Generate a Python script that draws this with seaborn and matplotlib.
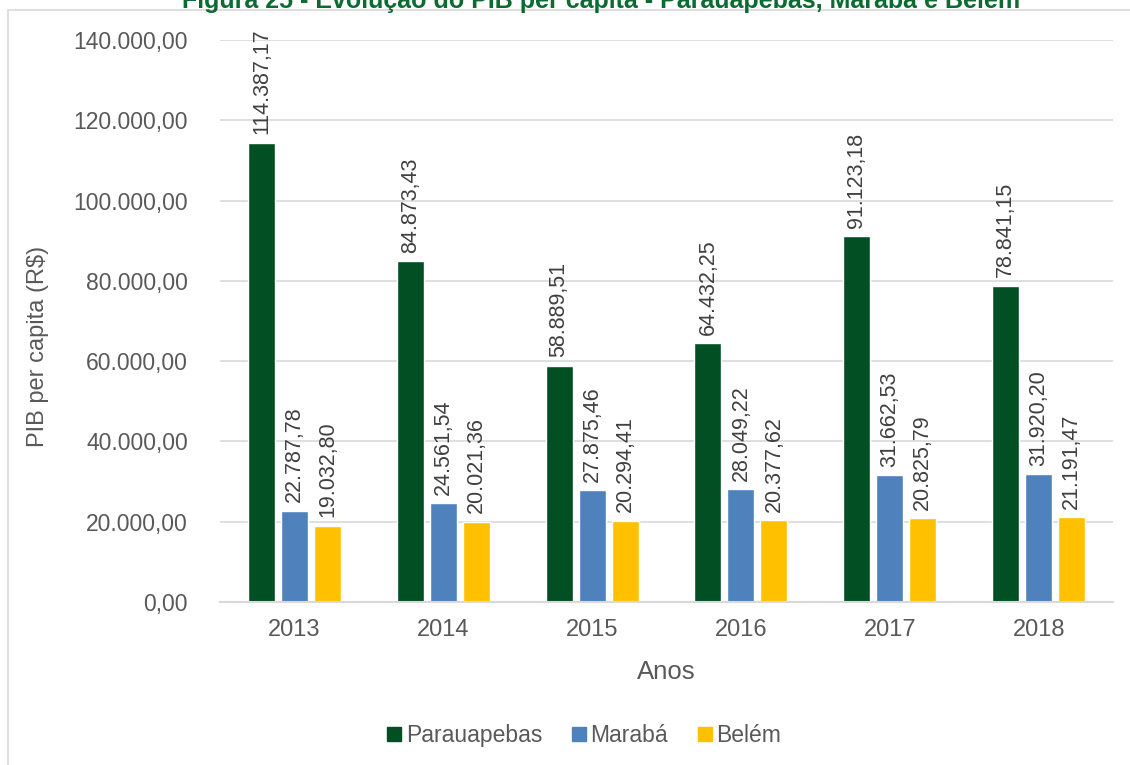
import matplotlib
matplotlib.use("Agg")
import matplotlib.pyplot as plt
from matplotlib.patches import Rectangle
from matplotlib.ticker import FuncFormatter, MultipleLocator
from matplotlib.lines import Line2D
import pandas as pd
import seaborn as sns

anos = ["2013", "2014", "2015", "2016", "2017", "2018"]
municipios = ["Parauapebas", "Marabá", "Belém"]
parauapebas = [114387.17, 84873.43, 58889.51, 64432.25, 91123.18, 78841.15]
maraba = [22787.78, 24561.54, 27875.46, 28049.22, 31662.53, 31920.20]
belem = [19032.80, 20021.36, 20294.41, 20377.62, 20825.79, 21191.47]
cores = ["#034F24", "#4F81BD", "#FFC000"]

serie = {"Parauapebas": parauapebas, "Marabá": maraba, "Belém": belem}
df = pd.DataFrame(
    [(a, m, v) for m in municipios for a, v in zip(anos, serie[m])],
    columns=["Ano", "Município", "PIB"],
)


def fmt_br(v, casas=2):
    s = f"{v:,.{casas}f}"
    return s.replace(",", "X").replace(".", ",").replace("X", ".")


sns.set_theme(style="white")
plt.rcParams["font.family"] = ["Liberation Sans", "DejaVu Sans"]
texto = "#595959"

fig = plt.figure(figsize=(11.3, 7.65), dpi=100)
ax = fig.add_axes([0.1947, 0.2131, 0.7903, 0.7346])

sns.barplot(
    data=df, x="Ano", y="PIB", hue="Município", order=anos,
    hue_order=municipios, palette=cores, width=0.665, gap=0.18,
    saturation=1, ax=ax, legend=False, errorbar=None,
)

ax.set_ylim(0, 140000)
ax.yaxis.set_major_locator(MultipleLocator(20000))
ax.yaxis.set_major_formatter(FuncFormatter(lambda v, p: fmt_br(v)))
ax.grid(axis="y", color="#D9D9D9", linewidth=1.2)
ax.set_axisbelow(True)
for lado in ["left", "right", "top"]:
    ax.spines[lado].set_visible(False)
ax.spines["bottom"].set_color("#D9D9D9")
ax.spines["bottom"].set_linewidth(1.5)
ax.tick_params(axis="both", length=0, labelsize=16.5, labelcolor=texto)
ax.tick_params(axis="x", labelsize=17)
ax.tick_params(axis="y", pad=23)
ax.tick_params(axis="x", pad=12)
ax.set_xlabel("Anos", fontsize=18.5, color=texto, labelpad=14)
ax.set_ylabel("PIB per capita (R$)", fontsize=17, color=texto, labelpad=14)
ax.yaxis.set_label_coords(-0.192, 0.454)

for cont in ax.containers:
    ax.bar_label(
        cont, labels=[fmt_br(b.get_height()) for b in cont],
        rotation=90, padding=6, fontsize=15.5, color="#404040", clip_on=False,
    )

handles = [
    Line2D([0], [0], marker="s", linestyle="none", markersize=10,
           markerfacecolor=c, markeredgecolor=c)
    for c in cores
]
fig.legend(
    handles, municipios, loc="center", bbox_to_anchor=(0.513, 0.039),
    ncol=3, frameon=False, fontsize=16.5, handletextpad=-0.2,
    columnspacing=0.9, labelcolor=texto, handlelength=1.4,
)

fig.text(
    0.532, 1 - 1 / 765, "Figura 25 - Evolução do PIB per capita - Parauapebas, Marabá e Belém",
    ha="center", va="center", fontsize=18, fontweight="bold", color="#0B6B30",
)
fig.patches.append(Rectangle(
    (8 / 1130, -0.05), 1.5, 1 - 10 / 765 + 0.05, transform=fig.transFigure,
    fill=False, edgecolor="#D9D9D9", linewidth=1.2,
))

fig.savefig("out.png", dpi=100)
